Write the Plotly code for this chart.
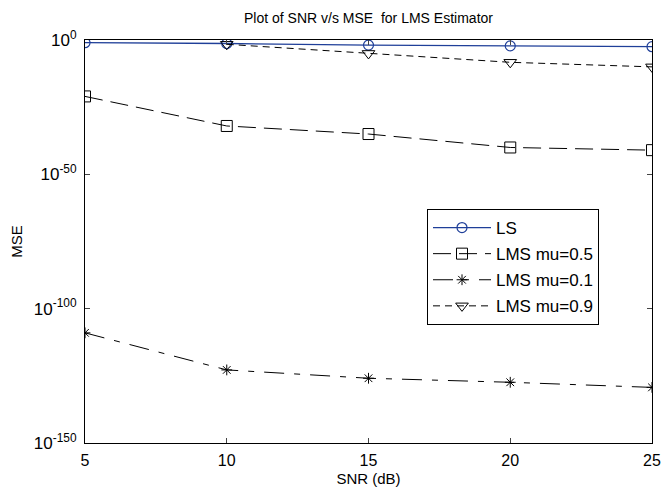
import plotly.graph_objects as go

snr = [5, 10, 15, 20, 25]
mse_ls = [10**-1.0, 10**-1.3, 10**-1.9, 10**-2.2, 10**-2.5]
mse_mu05 = [1e-21, 1e-32, 1e-35, 1e-40, 1e-41]
mse_mu01 = [1e-109, 10**-122.8, 10**-125.9, 10**-127.4, 10**-129.3]
mse_mu09 = [None, 10**-1.6, 1e-5, 10**-8.3, 1e-10]

ytick_vals = [1e0, 1e-50, 1e-100, 1e-150]
ytick_text = ["10<sup>0</sup>", "10<sup>-50</sup>", "10<sup>-100</sup>", "10<sup>-150</sup>"]
xtick_vals = [5, 10, 15, 20, 25]

FONT = "Liberation Sans, Arial, sans-serif"

fig = go.Figure()
fig.add_trace(go.Scatter(x=snr, y=mse_ls, name="LS", mode="lines+markers", legendgroup="a",
                         line=dict(color="#1f3f99", width=1.3),
                         marker=dict(symbol="circle-open", size=10, color="#1f3f99", line=dict(width=1.2))))
fig.add_trace(go.Scatter(x=snr, y=mse_mu05, name="LMS mu=0.5", mode="lines+markers", legendgroup="b",
                         line=dict(color="black", width=1, dash="18px,8px"),
                         marker=dict(symbol="square-open", size=11, color="black", line=dict(width=1))))
fig.add_trace(go.Scatter(x=snr, y=mse_mu01, name="LMS mu=0.1", mode="lines+markers", legendgroup="c",
                         line=dict(color="black", width=1, dash="20px,10px,6px,10px"),
                         marker=dict(symbol="asterisk-open", size=9, color="black", line=dict(width=1))))
fig.add_trace(go.Scatter(x=snr, y=mse_mu09, name="LMS mu=0.9", mode="lines+markers", legendgroup="d",
                         connectgaps=False,
                         line=dict(color="black", width=1, dash="7px,5px"),
                         marker=dict(symbol="triangle-down-open", size=11, color="black", line=dict(width=1))))

fig.update_layout(
    width=663, height=491,
    margin=dict(l=85, r=11, t=40, b=48),
    paper_bgcolor="white", plot_bgcolor="white",
    font=dict(family=FONT, size=14, color="black"),
    title=dict(text="Plot of SNR v/s MSE  for LMS Estimator", x=(85 + 652) / 2 / 663, xanchor="center",
               y=1 - 18 / 491, yanchor="middle", font=dict(size=14), automargin=False),
    showlegend=True,
    legend=dict(x=(427 - 85) / 567, y=(443 - 209) / 403, xanchor="left", yanchor="top",
                bordercolor="black", borderwidth=1, bgcolor="white", itemwidth=58,
                font=dict(size=17), tracegroupgap=1, traceorder="grouped", entrywidth=184),
)
fig.update_xaxes(range=[5, 25], tickvals=xtick_vals, ticks="inside", ticklen=5, showgrid=False, zeroline=False,
                 showline=True, linecolor="black", linewidth=1, mirror="ticks", tickfont=dict(size=16),
                 ticklabeloverflow="allow", ticklabelstandoff=3, automargin=False,
                 title=dict(text="SNR (dB)", font=dict(size=15), standoff=5))
fig.update_yaxes(type="log", range=[-150, 0], tickvals=ytick_vals, ticktext=ytick_text, ticks="inside", ticklen=5,
                 showgrid=False, zeroline=False, showline=True, linecolor="black", linewidth=1, mirror="ticks",
                 tickfont=dict(size=17), ticklabeloverflow="allow", ticklabelstandoff=4, automargin=False,
                 title=dict(text="MSE", font=dict(size=15), standoff=7))

fig.write_html("out.html")
